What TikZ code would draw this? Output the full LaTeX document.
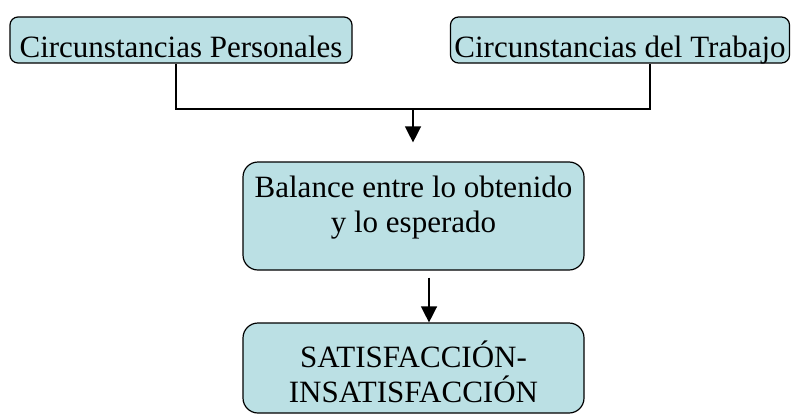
\documentclass[tikz,border=0pt]{standalone}
\usepackage{fontspec}
\setmainfont{Liberation Serif}
\usetikzlibrary{arrows.meta}
\definecolor{boxfill}{RGB}{187,224,228}
\begin{document}
\begin{tikzpicture}[x=1pt,y=-1pt,
  box/.style={draw=black, fill=boxfill, line width=1.2pt, inner sep=0pt},
  txt/.style={font=\fontsize{31}{35}\selectfont, inner sep=0pt, anchor=base, align=center},
  conn/.style={draw=black, line width=1.4pt},
  tip/.style={-{Triangle[width=16pt,length=16pt]}}]
\useasboundingbox (0,0) rectangle (791,415);
\node[box, rounded corners=8pt, minimum width=342pt, minimum height=46pt] (p) at (181,40) {};
\node[box, rounded corners=8pt, minimum width=339pt, minimum height=46pt] (w) at (620,40) {};
\node[box, rounded corners=15pt, minimum width=341pt, minimum height=108pt] (b) at (413.5,216) {};
\node[box, rounded corners=15pt, minimum width=341pt, minimum height=90pt] (s) at (413.5,368) {};
\node[txt] (tp) at (181,57) {Circunstancias Personales};
\node[txt] (tw) at (620,57) {Circunstancias del Trabajo};
\node[txt] (tb) at (413.5,232) {Balance entre lo obtenido\\y lo esperado};
\node[txt] (ts) at (413.5,402) {SATISFACCIÓN-\\INSATISFACCIÓN};
\coordinate (j) at (413,109);
\draw[conn] ([xshift=-5pt]p.south) |- (j) -| ([xshift=30pt]w.south);
\draw[conn, tip, shorten >=19pt] (j) -- (j |- b.north);
\draw[conn, tip, shorten <=7pt] ([xshift=15.5pt]b.south) -- ([xshift=15.5pt]s.north);
\end{tikzpicture}
\end{document}
